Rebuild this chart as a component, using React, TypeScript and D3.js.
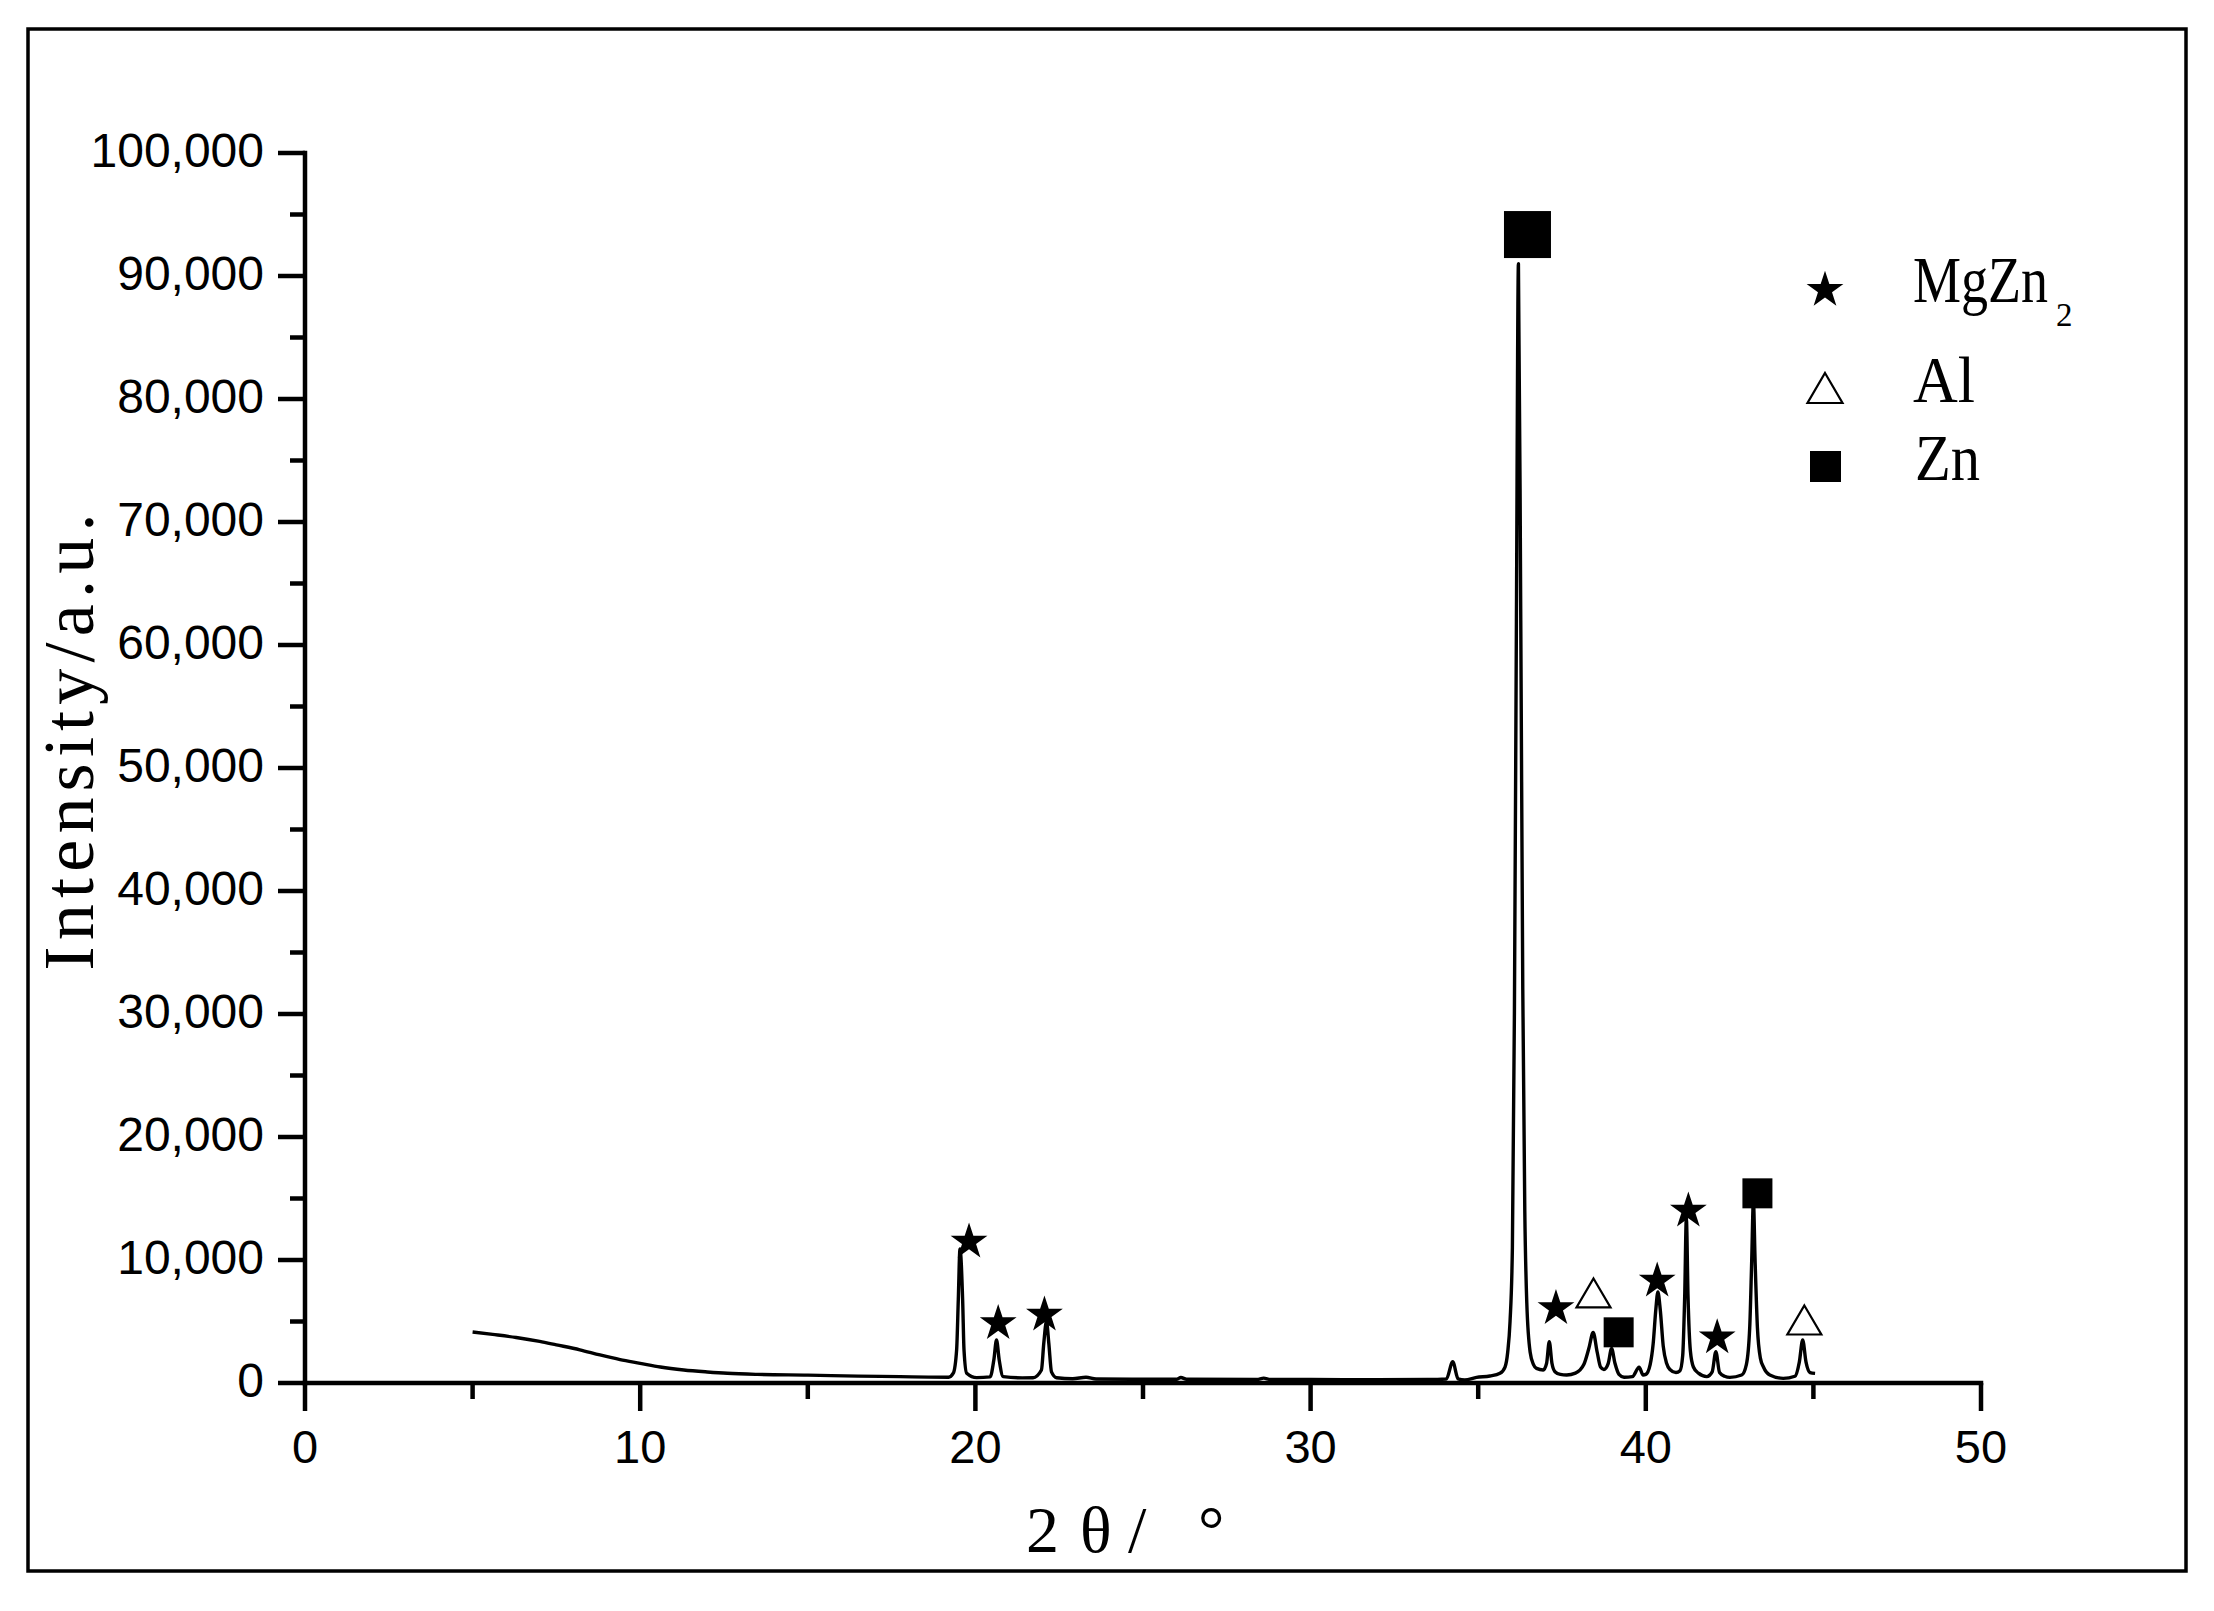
import React from "react";
import * as d3 from "d3";

// ---------- data ----------
const xMajorTicks = [0, 10, 20, 30, 40, 50];
const xMinorTicks = [5, 15, 25, 35, 45];
const yMajorTicks = [0, 10000, 20000, 30000, 40000, 50000, 60000, 70000, 80000, 90000, 100000];
const yMinorTicks = [5000, 15000, 25000, 35000, 45000, 55000, 65000, 75000, 85000, 95000];

const twoTheta = [
  5.0, 5.6, 6.3, 7.0, 7.5, 8.2, 8.8, 9.4, 10.0, 10.6, 11.3, 12.0, 12.6, 13.5, 15.0, 16.5, 17.75, 18.6, 19.2,
  19.34, 19.44, 19.49, 19.54, 19.62, 19.66, 19.74, 20.04, 20.44, 20.55, 20.63, 20.71, 20.83, 21.4, 21.72,
  21.97, 22.04, 22.12, 22.19, 22.27, 22.42, 22.9, 23.3, 23.6, 25.0, 26.0, 26.13, 26.3, 28.4, 28.6, 28.8,
  30.0, 32.0, 33.5, 34.05, 34.24, 34.4, 34.6, 34.95, 35.35, 35.65, 35.8, 35.88, 35.95, 36.02, 36.08, 36.14,
  36.2, 36.27, 36.33, 36.39, 36.45, 36.55, 36.65, 36.74, 36.94, 37.04, 37.12, 37.2, 37.29, 37.45, 37.64,
  37.9, 38.15, 38.3, 38.43, 38.55, 38.65, 38.75, 38.88, 38.98, 39.08, 39.2, 39.35, 39.6, 39.8, 39.92, 40.0,
  40.13, 40.22, 40.3, 40.36, 40.43, 40.52, 40.62, 40.72, 40.9, 41.02, 41.1, 41.16, 41.21, 41.26, 41.33,
  41.42, 41.57, 41.82, 41.98, 42.09, 42.2, 42.35, 42.51, 42.86, 43.0, 43.1, 43.16, 43.21, 43.26, 43.33,
  43.42, 43.51, 43.7, 44.1, 44.45, 44.58, 44.68, 44.78, 44.9, 45.05,
];
const intensity = [
  4150, 3950, 3700, 3380, 3100, 2700, 2280, 1900, 1600, 1300, 1060, 900, 790, 700, 640, 560, 515, 480, 470,
  800, 2700, 6800, 10900, 6700, 2700, 800, 440, 500, 1870, 3500, 1870, 520, 420, 430,
  1060, 3230, 5000, 3230, 900, 430, 350, 470, 330, 300, 300, 450, 300, 280, 400, 280,
  280, 270, 280, 330, 1730, 340, 250, 460, 570, 790, 1300, 2500, 5000, 11000, 30000, 62000,
  91000, 62000, 32000, 14000, 6500, 2500, 1500, 1190, 1060, 1600, 3360, 1600, 920, 700, 650,
  800, 1500, 2800, 4100, 2500, 1300, 1100, 1600, 2800, 1600, 700, 470, 520, 1280, 650, 700,
  1500, 3200, 6000, 7400, 6000, 3000, 1600, 1100, 850, 1000, 2200, 7000, 13400, 7000, 2600,
  1300, 800, 520, 900, 2550, 850, 550, 460, 650, 1500, 4500, 10000, 14800, 10000, 4500,
  2000, 1300, 650, 380, 550, 1700, 3500, 1700, 850, 780,
];

// phase markers (peak labels)
const mgzn2Theta = [19.81, 20.68, 22.06, 37.32, 40.34, 41.27, 42.13];
const mgzn2Level = [11600, 4980, 5670, 6200, 8430, 14120, 3820];
const alTheta = [38.44, 44.73];
const alLevel = [7320, 5120];
const znTheta = [36.47, 39.19, 43.33];
const znLevel = [93370, 4120, 15420];

const legendLabels = ["MgZn", "Al", "Zn"];
const legendSub = "2";
const xTitle = ["2", "θ", "/", "°"];
const yTitle = "Intensity/a.u.";

// ---------- layout ----------
const W = 2214;
const H = 1611;
const x = d3.scaleLinear().domain([0, 50]).range([305, 1981]);
const y = d3.scaleLinear().domain([0, 100000]).range([1383, 153]);

const starPath = d3.symbol(d3.symbolStar, 420)() as string;
function triPath(w: number, h: number) {
  const p = d3.path();
  p.moveTo(0, -h / 2);
  p.lineTo(w / 2, h / 2);
  p.lineTo(-w / 2, h / 2);
  p.closePath();
  return p.toString();
}

export default function App() {
  const line = d3
    .line<number>()
    .x((_, i) => x(twoTheta[i]))
    .y((d) => y(d))
    .curve(d3.curveMonotoneX);
  const fmt = d3.format(",");
  const axisStroke = 4.5;
  const serif = "'Liberation Serif', 'Times New Roman', serif";
  const sans = "'Liberation Sans', Arial, sans-serif";

  return (
    <svg
      width={W}
      height={H}
      style={{ position: "absolute", left: 0, top: 0, display: "block", background: "#fff" }}
    >
      <rect x={0} y={0} width={W} height={H} fill="#fff" />
      {/* outer frame */}
      <rect x={28} y={29} width={2158} height={1542} fill="none" stroke="#000" strokeWidth={3.5} />

      {/* data curve */}
      <path d={line(intensity) as string} fill="none" stroke="#000" strokeWidth={3.4} strokeLinejoin="round" />

      {/* axes */}
      <line x1={x(0)} x2={x(50)} y1={y(0)} y2={y(0)} stroke="#000" strokeWidth={axisStroke} strokeLinecap="square" />
      <line x1={x(0)} x2={x(0)} y1={y(0)} y2={y(100000)} stroke="#000" strokeWidth={axisStroke} strokeLinecap="square" />

      {xMajorTicks.map((t) => (
        <g key={"xt" + t}>
          <line x1={x(t)} x2={x(t)} y1={y(0)} y2={y(0) + 28} stroke="#000" strokeWidth={axisStroke} />
          <text x={x(t)} y={1463} textAnchor="middle" fontFamily={sans} fontSize={47}>
            {t}
          </text>
        </g>
      ))}
      {xMinorTicks.map((t) => (
        <line key={"xm" + t} x1={x(t)} x2={x(t)} y1={y(0)} y2={y(0) + 16} stroke="#000" strokeWidth={axisStroke} />
      ))}
      {yMajorTicks.map((t) => (
        <g key={"yt" + t}>
          <line x1={x(0) - 27} x2={x(0)} y1={y(t)} y2={y(t)} stroke="#000" strokeWidth={axisStroke} />
          <text x={264} y={y(t) + 14} textAnchor="end" fontFamily={sans} fontSize={48}>
            {fmt(t)}
          </text>
        </g>
      ))}
      {yMinorTicks.map((t) => (
        <line key={"ym" + t} x1={x(0) - 15} x2={x(0)} y1={y(t)} y2={y(t)} stroke="#000" strokeWidth={axisStroke} />
      ))}

      {/* axis titles */}
      <text
        transform="translate(93,742) rotate(-90)"
        textAnchor="middle"
        fontFamily={serif}
        fontSize={72}
        textLength={457}
        lengthAdjust="spacing"
      >
        {yTitle}
      </text>
      <text fontFamily={serif} fontSize={66} y={1552}>
        <tspan x={1026}>{xTitle[0]}</tspan>
        <tspan x={1080}>{xTitle[1]}</tspan>
        <tspan x={1128}>{xTitle[2]}</tspan>
        <tspan x={1198}>{xTitle[3]}</tspan>
      </text>

      {/* peak markers */}
      {mgzn2Theta.map((t, i) => (
        <path key={"s" + i} d={starPath} transform={`translate(${x(t)},${y(mgzn2Level[i]) + 1.5})`} fill="#000" />
      ))}
      {alTheta.map((t, i) => (
        <path
          key={"a" + i}
          d={triPath(34, 29)}
          transform={`translate(${x(t)},${y(alLevel[i])})`}
          fill="#fff"
          stroke="#000"
          strokeWidth={2.2}
        />
      ))}
      {znTheta.map((t, i) => {
        const s = znLevel[i] > 50000 ? 47 : 30;
        return <rect key={"z" + i} x={x(t) - s / 2} y={y(znLevel[i]) - s / 2} width={s} height={s} fill="#000" />;
      })}

      {/* legend */}
      <path d={starPath} transform="translate(1825,290)" fill="#000" />
      <path d={triPath(35, 30)} transform="translate(1825,388)" fill="#fff" stroke="#000" strokeWidth={2.2} />
      <rect x={1810} y={451} width={31} height={31} fill="#000" />
      <g fontFamily={serif} fontSize={66}>
        <text x={1913} y={302}>
          <tspan textLength={135} lengthAdjust="spacingAndGlyphs">
            {legendLabels[0]}
          </tspan>
          <tspan x={2056} y={326} fontSize={33}>
            {legendSub}
          </tspan>
        </text>
        <text x={1913} y={402} textLength={62} lengthAdjust="spacingAndGlyphs">
          {legendLabels[1]}
        </text>
        <text x={1915} y={480} textLength={65} lengthAdjust="spacingAndGlyphs">
          {legendLabels[2]}
        </text>
      </g>
    </svg>
  );
}
